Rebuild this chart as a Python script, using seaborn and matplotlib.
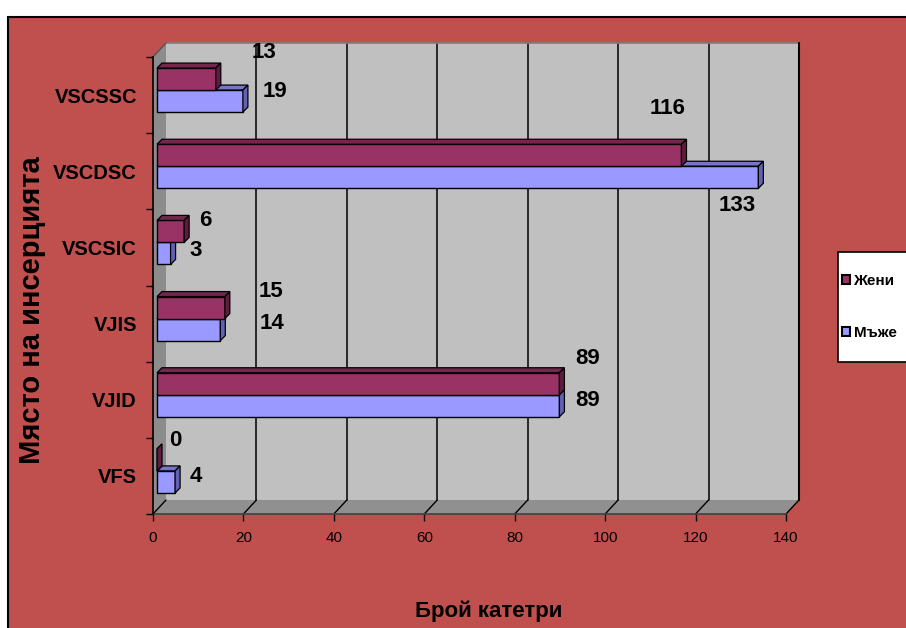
import numpy as np
import pandas as pd
import matplotlib
matplotlib.use("Agg")
import matplotlib.pyplot as plt
from matplotlib.patches import Polygon, Rectangle, Patch
import seaborn as sns

# ---- data -------------------------------------------------------------
categories = ["VSCSSC", "VSCDSC", "VSCSIC", "VJIS", "VJID", "VFS"]
women = [13, 116, 6, 15, 89, 0]
men = [19, 133, 3, 14, 89, 4]
series_names = ["Жени", "Мъже"]
x_ticks = [0, 20, 40, 60, 80, 100, 120, 140]

# ---- style ------------------------------------------------------------
sns.set_style("white")
FONT = ["Liberation Sans", "DejaVu Sans"]
plt.rcParams["font.family"] = FONT
for key in ["text.color", "axes.labelcolor", "xtick.color", "ytick.color"]:
    plt.rcParams[key] = "black"

BG = "#C0504D"
WALL = "#C0C0C0"
SIDE = "#8C8C8C"
FLOOR = "#909090"
FRONT = {"Жени": "#993366", "Мъже": "#9999FF"}
TOP = {"Жени": "#74264D", "Мъже": "#7575CC"}
SIDEF = {"Жени": "#5E1D3E", "Мъже": "#6262B5"}

W, H = 906, 628
fig = plt.figure(figsize=(W / 100, H / 100), dpi=100, facecolor="white")
fig.patches.append(Rectangle((8 / W, -0.2), 1.2, 1.2 - 17 / H,
                             transform=fig.transFigure, facecolor=BG,
                             edgecolor="black", linewidth=1.5, zorder=-10))

# front plane of the 3-D box
left_px, right_px, top_px, bot_px = 153, 786, 57, 514
ax = fig.add_axes([left_px / W, 1 - bot_px / H,
                   (right_px - left_px) / W, (bot_px - top_px) / H])
ax.set_facecolor("none")

df = pd.DataFrame({
    "Място": categories * 2,
    "Брой": women + men,
    "Пол": [series_names[0]] * len(categories) + [series_names[1]] * len(categories),
})

sns.barplot(data=df, y="Място", x="Брой", hue="Пол", hue_order=series_names,
            order=categories, orient="h", width=0.578, dodge=True,
            palette=FRONT, saturation=1, edgecolor="black", linewidth=1,
            legend=False, ax=ax)
bars = list(ax.patches)

XMAX = 140
ax.set_xlim(0, XMAX)
ax.set_ylim(len(categories) - 0.5, -0.5)
YLO, YHI = -0.5, len(categories) - 0.5

sx = XMAX / (right_px - left_px)
sy = len(categories) / (bot_px - top_px)


def P(x, y, px=0.0, py=0.0):
    """Data point shifted by px pixels right and py pixels up."""
    return (x + px * sx, y - py * sy)


DX, DY = 13, 14  # depth of the box
BX, BY = 4, 5    # front of the bars
BD = 5           # bar depth


def poly(pts, fc, z, ec="none", lw=0.0):
    ax.add_patch(Polygon(pts, closed=True, facecolor=fc, edgecolor=ec,
                         linewidth=lw, zorder=z, clip_on=False))


# back wall, side wall and floor
poly([P(0, YHI, DX, DY), P(XMAX, YHI, DX, DY), P(XMAX, YLO, DX, DY), P(0, YLO, DX, DY)], WALL, 0.1)
poly([P(0, YHI), P(0, YHI, DX, DY), P(0, YLO, DX, DY), P(0, YLO)], SIDE, 0.2)
poly([P(0, YHI), P(XMAX, YHI), P(XMAX, YHI, DX, DY), P(0, YHI, DX, DY)], FLOOR, 0.2)

for xv in x_ticks[1:]:
    a, b = P(xv, YHI, DX, DY), P(xv, YLO, DX, DY)
    ax.plot([a[0], b[0]], [a[1], b[1]], color="black", lw=1.1, zorder=0.5, clip_on=False)
for xv in x_ticks:
    a, b = P(xv, YHI), P(xv, YHI, DX, DY)
    ax.plot([a[0], b[0]], [a[1], b[1]], color="black", lw=1.0, zorder=0.6, clip_on=False)
a, b = P(0, YLO, DX, DY), P(XMAX, YLO, DX, DY)
ax.plot([a[0], b[0]], [a[1], b[1]], color="#7F7F7F", lw=1.2, zorder=0.5, clip_on=False)
a, b = P(0, YLO), P(0, YLO, DX, DY)
ax.plot([a[0], b[0]], [a[1], b[1]], color="#555555", lw=1.0, zorder=0.6, clip_on=False)
a, b = P(XMAX, YHI, DX, DY), P(XMAX, YLO, DX, DY)
ax.plot([a[0], b[0]], [a[1], b[1]], color="black", lw=1.5, zorder=0.6, clip_on=False)

# give the bars depth
n = len(categories)
for i, rect in enumerate(bars):
    name = series_names[i // n]
    rect.set_x(rect.get_x() + BX * sx)
    rect.set_y(rect.get_y() - BY * sy)
    xl = rect.get_x()
    xr = xl + rect.get_width()
    yt = rect.get_y()
    yb = yt + rect.get_height()
    z = 4 if name == "Жени" else 3
    rect.set_zorder(z)
    top_z = 4 if name == "Жени" else 2
    poly([P(xl, yt), P(xr, yt), P(xr, yt, BD, BD), P(xl, yt, BD, BD)], TOP[name], top_z, "black", 0.9)
    poly([P(xr, yt), P(xr, yb), P(xr, yb, BD, BD), P(xr, yt, BD, BD)], SIDEF[name], z, "black", 0.9)

# value labels (pixel offsets from the bar end / category centre)
label_offsets = {
    "Жени": [(52, 43), (-10, 63), (25, 27), (50, 32), (32, 41), (22, 35)],
    "Мъже": [(36, 4), (-17, -34), (29, -3), (56, 0), (32, -1), (25, -1)],
}
for name, vals in zip(series_names, [women, men]):
    for i, v in enumerate(vals):
        ox, oy = label_offsets[name][i]
        ax.annotate(str(v), xy=(v, i), xycoords="data",
                    xytext=(ox, oy), textcoords="offset pixels",
                    ha="center", va="center", fontsize=16,
                    fontweight="bold", color="black", zorder=6,
                    annotation_clip=False)

# axes, ticks and labels
for s in ["top", "right"]:
    ax.spines[s].set_visible(False)
ax.spines["left"].set_color("black")
ax.spines["left"].set_linewidth(1.2)
ax.spines["left"].set_zorder(5)
ax.spines["bottom"].set_color("#404040")
ax.spines["bottom"].set_linewidth(1.2)

ax.set_xticks(x_ticks)
ax.set_xticklabels([str(t) for t in x_ticks])
ax.tick_params(axis="x", length=5, width=1, color="black", direction="out",
               labelsize=11, pad=7, bottom=True, labelcolor="black")
ax.set_yticks(range(n))
ax.set_yticklabels(categories)
ax.tick_params(axis="y", which="major", length=0, pad=11.5, labelsize=14.5,
               labelcolor="black")
for t in ax.get_yticklabels():
    t.set_fontweight("bold")
ax.set_yticks(np.arange(-0.5, n, 1.0), minor=True)
ax.tick_params(axis="y", which="minor", length=5, width=1, color="black",
               direction="out", left=True)
ax.set_xlabel("")
ax.set_ylabel("")

fig.text(32 / W, 1 - 310 / H, "Място на инсерцията", rotation=90,
         ha="center", va="center", fontsize=21, fontweight="bold", color="black")
fig.text(489 / W, 1 - 611 / H, "Брой катетри", ha="center", va="center",
         fontsize=16, fontweight="bold", color="black")

# legend: white box with the two series
fig.patches.append(Rectangle((838 / W, 1 - 362 / H), 80 / W, 110 / H,
                             transform=fig.transFigure, facecolor="white",
                             edgecolor="black", linewidth=1.2, zorder=5))
handles = [Patch(facecolor=FRONT[s], edgecolor="black", linewidth=1.5) for s in series_names]
leg = fig.legend(handles, series_names, loc="center left",
                 bbox_to_anchor=(839 / W, 1 - 307 / H), bbox_transform=fig.transFigure,
                 frameon=False, borderaxespad=0, borderpad=0.2, labelspacing=2.45,
                 handlelength=0.55, handleheight=0.55, handletextpad=0.2,
                 prop={"weight": "bold", "size": 11})
leg.set_zorder(6)
for t in leg.get_texts():
    t.set_color("black")

fig.savefig("out.png", dpi=100, facecolor=fig.get_facecolor())
